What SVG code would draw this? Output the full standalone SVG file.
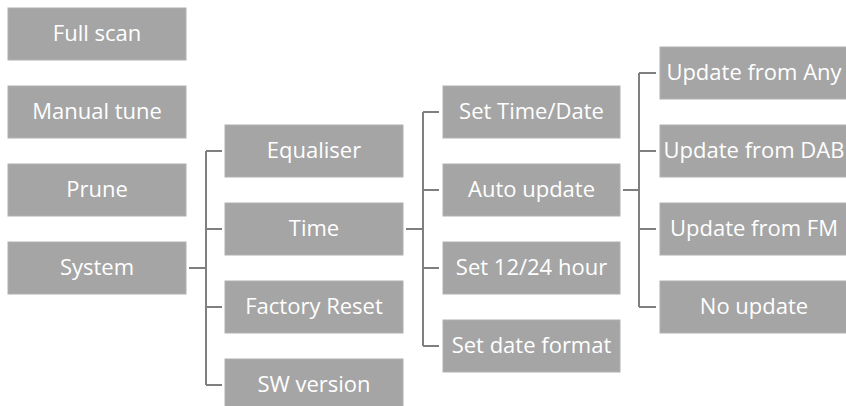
<svg xmlns="http://www.w3.org/2000/svg" width="846" height="406" viewBox="0 0 846 406">
<style>
.box{fill:#A5A5A5;stroke:#B0B0B0;stroke-width:1}
.t{font-family:"Open Sans","Liberation Sans",sans-serif;font-size:22px;fill:#FFFFFF;text-anchor:middle}
.c{fill:none;stroke:#7F7F7F;stroke-width:2}
</style>
<rect width="846" height="406" fill="#FFFFFF"/>
<g id="connectors">
<path class="c" d="M189,268 H206 M206,151 V385 M206,151 H222 M206,229 H222 M206,307 H222 M206,385 H222"/>
<path class="c" d="M406,229 H423 M423,112 V346 M423,112 H439 M423,190 H439 M423,268 H439 M423,346 H439"/>
<path class="c" d="M623,190 H639 M639,73 V307 M639,73 H656 M639,151 H656 M639,229 H656 M639,307 H656"/>
</g>
<g id="full-scan"><rect class="box" x="8" y="8" width="178" height="52"/><text class="t" x="97" y="41">Full scan</text></g>
<g id="manual-tune"><rect class="box" x="8" y="86" width="178" height="52"/><text class="t" x="97" y="119">Manual tune</text></g>
<g id="prune"><rect class="box" x="8" y="164" width="178" height="52"/><text class="t" x="97" y="197">Prune</text></g>
<g id="system"><rect class="box" x="8" y="242" width="178" height="52"/><text class="t" x="97" y="275">System</text></g>
<g id="equaliser"><rect class="box" x="225" y="125" width="178" height="52"/><text class="t" x="314" y="158">Equaliser</text></g>
<g id="time"><rect class="box" x="225" y="203" width="178" height="52"/><text class="t" x="314" y="236">Time</text></g>
<g id="factory-reset"><rect class="box" x="225" y="281" width="178" height="52"/><text class="t" x="314" y="314">Factory Reset</text></g>
<g id="sw-version"><rect class="box" x="225" y="359" width="178" height="52"/><text class="t" x="314" y="392">SW version</text></g>
<g id="set-time-date"><rect class="box" x="443" y="86" width="177" height="52"/><text class="t" x="531.5" y="119">Set Time/Date</text></g>
<g id="auto-update"><rect class="box" x="443" y="164" width="177" height="52"/><text class="t" x="531.5" y="197">Auto update</text></g>
<g id="set-12-24"><rect class="box" x="443" y="242" width="177" height="52"/><text class="t" x="531.5" y="275">Set 12/24 hour</text></g>
<g id="set-date-format"><rect class="box" x="443" y="320" width="177" height="52"/><text class="t" x="531.5" y="353">Set date format</text></g>
<g id="update-any"><rect class="box" x="660" y="47" width="190" height="52"/><text class="t" x="754" y="80">Update from Any</text></g>
<g id="update-dab"><rect class="box" x="660" y="125" width="190" height="52"/><text class="t" x="754" y="158">Update from DAB</text></g>
<g id="update-fm"><rect class="box" x="660" y="203" width="190" height="52"/><text class="t" x="754" y="236">Update from FM</text></g>
<g id="no-update"><rect class="box" x="660" y="281" width="190" height="52"/><text class="t" x="754" y="314">No update</text></g>
</svg>
